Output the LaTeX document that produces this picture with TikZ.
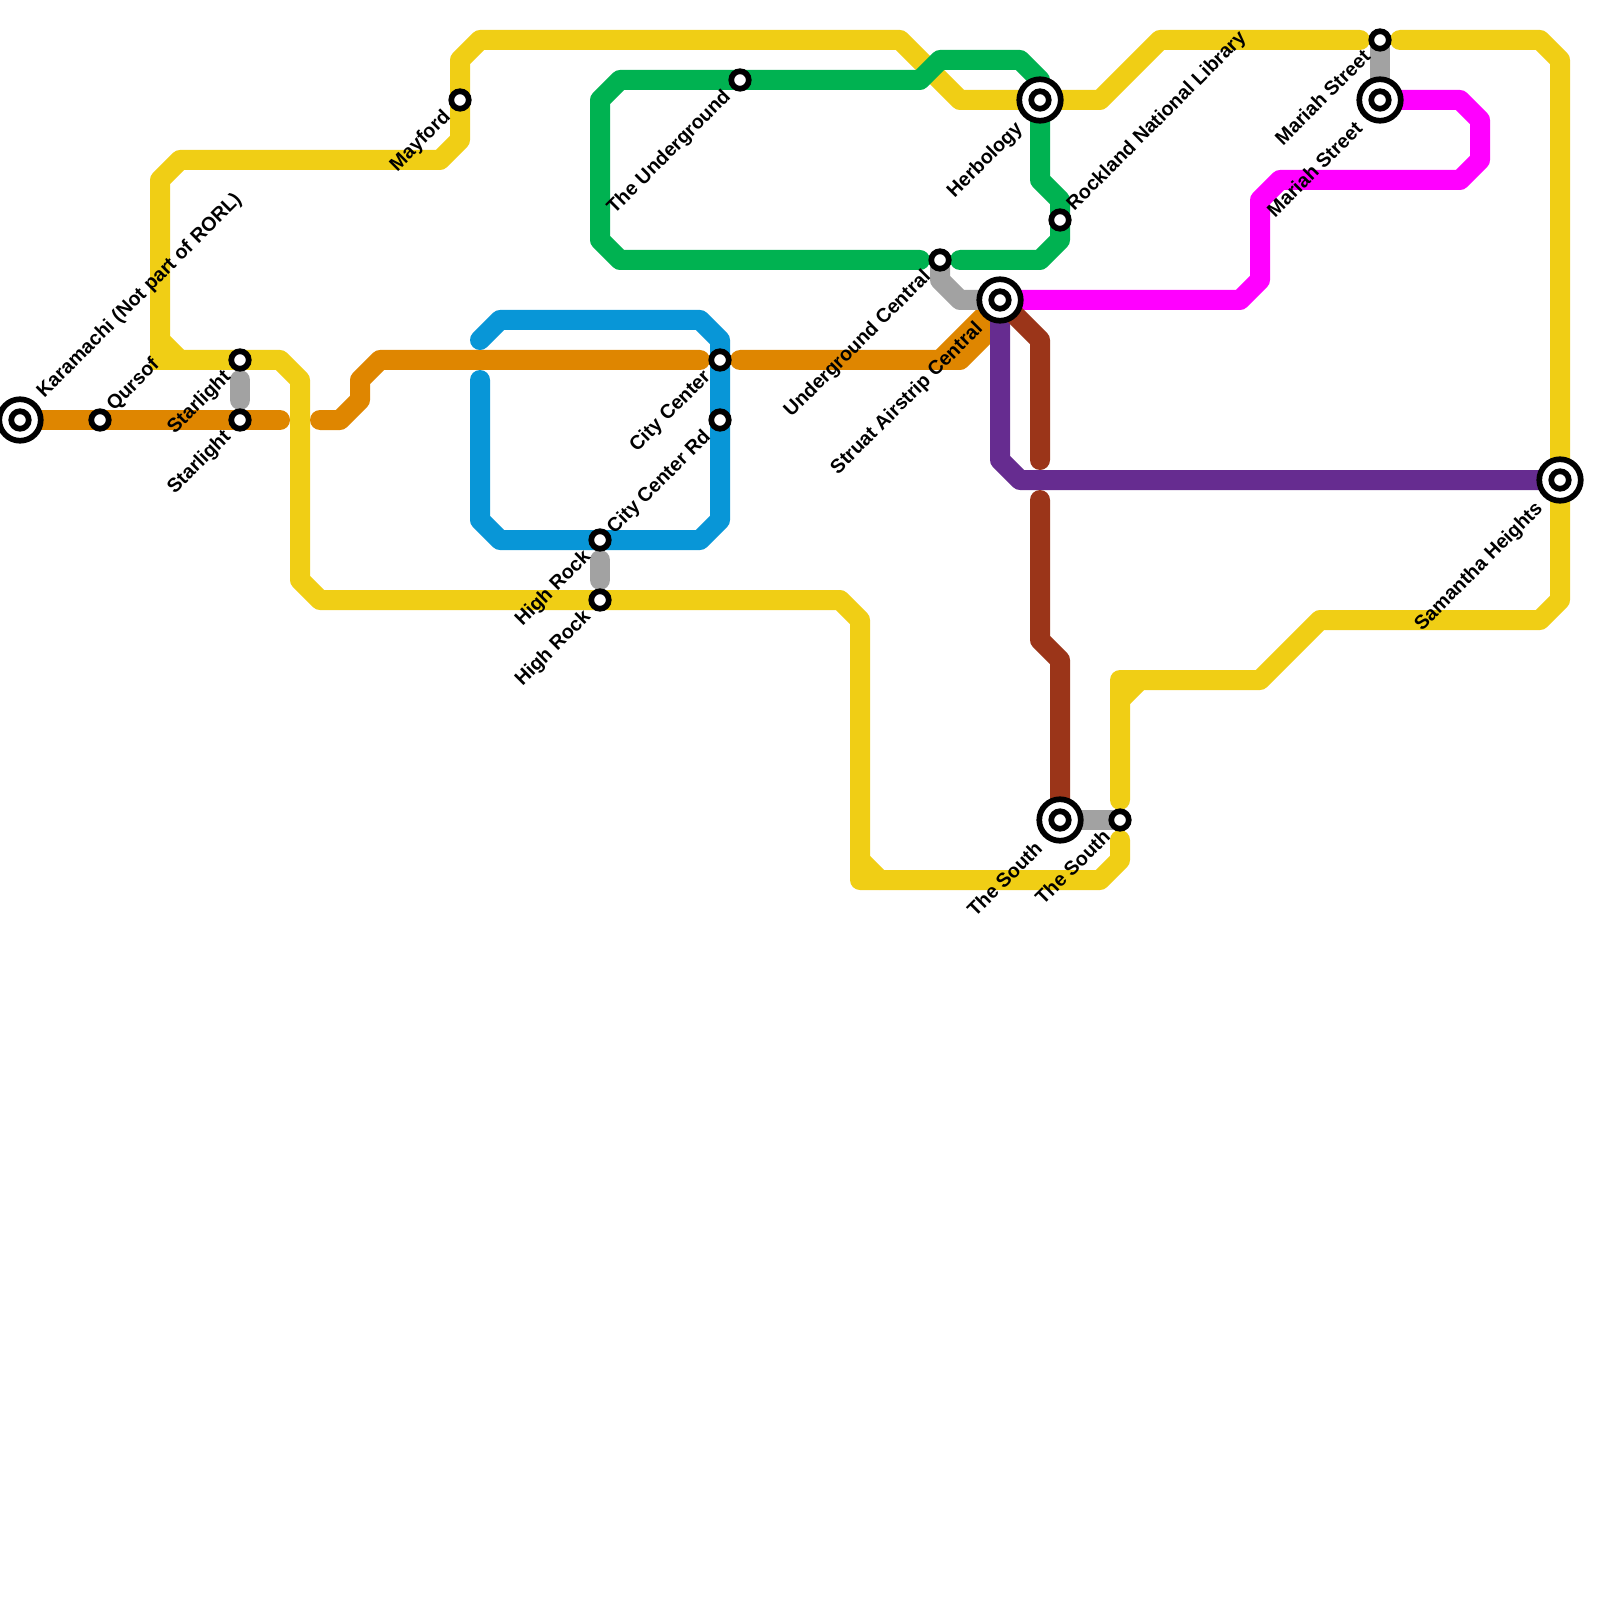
\documentclass[tikz,border=0pt]{standalone}
\usepackage{fontspec}
\usepackage{xcolor}
\setmainfont{Liberation Sans}
\usetikzlibrary{backgrounds}

\definecolor{lineyellow}{HTML}{F0CE15}
\definecolor{lineorange}{HTML}{DF8600}
\definecolor{lineblue}{HTML}{0896D7}
\definecolor{linegreen}{HTML}{00B251}
\definecolor{linepink}{HTML}{FF00FF}
\definecolor{linepurple}{HTML}{662C90}
\definecolor{linebrown}{HTML}{9B3519}
\definecolor{linegrey}{HTML}{A2A2A2}

\begin{document}
\begin{tikzpicture}[
x=2mm, y=-2mm,
metro/.style={line width=2mm, line cap=round, line join=round},
stop/.style={circle, draw=black, fill=white, line width=0.57mm, inner sep=0pt, minimum size=1.75mm},
hub/.style={circle, draw=black, fill=white, line width=0.57mm, inner sep=0pt, minimum size=4.15mm},
walk/.style={metro, linegrey},
walkshort/.style={walk, shorten >=2mm, shorten <=2mm},
txt/.style={font=\bfseries\fontsize{5.6pt}{6pt}\selectfont, inner sep=0pt, text height=1.4mm, text depth=0.3mm},
lblleft/.style={txt, anchor=east, xshift=-1.2mm, yshift=-1.35mm, rotate=45},
lblright/.style={txt, anchor=west, xshift=1mm, yshift=1.2mm, rotate=45},
hubleft/.style={txt, anchor=east, xshift=-2mm, yshift=-2.55mm, rotate=45},
hubright/.style={txt, anchor=west, xshift=2mm, yshift=2.5mm, rotate=45}
]
\useasboundingbox (0,0) rectangle (80,80);

% stations
\node[hub] (karamachi) at (1,21) {};
\node[stop] (karamachi_in) at (karamachi) {};
\node[stop] (qursof) at (5,21) {};
\node[stop] (starlight_y) at (12,18) {};
\node[stop] (starlight_o) at (12,21) {};
\node[stop] (mayford) at (23,5) {};
\node[stop] (underground) at (37,4) {};
\node[stop] (highrock_b) at (30,27) {};
\node[stop] (highrock_y) at (30,30) {};
\node[stop] (citycenter) at (36,18) {};
\node[stop] (citycenterrd) at (36,21) {};
\node[stop] (ugcentral) at (47,13) {};
\node[hub] (struat) at (50,15) {};
\node[stop] (struat_in) at (struat) {};
\node[hub] (herbology) at (52,5) {};
\node[stop] (herbology_in) at (herbology) {};
\node[stop] (rockland) at (53,11) {};
\node[hub] (south_b) at (53,41) {};
\node[stop] (south_b_in) at (south_b) {};
\node[stop] (south_y) at (56,41) {};
\node[stop] (mariah_y) at (69,2) {};
\node[hub] (mariah_p) at (69,5) {};
\node[stop] (mariah_p_in) at (mariah_p) {};
\node[hub] (samantha) at (78,24) {};
\node[stop] (samantha_in) at (samantha) {};

% free ends
\coordinate (yellow_a) at (9,18);
\coordinate (yellow_b) at (68,2);
\coordinate (yellow_c) at (70,2);
\coordinate (yellow_d) at (56,40);
\coordinate (yellow_e) at (56,42);
\coordinate (orange_a) at (14,21);
\coordinate (orange_b) at (16,21);
\coordinate (orange_c) at (35,18);
\coordinate (orange_d) at (37,18);
\coordinate (blue_a) at (24,17);
\coordinate (blue_b) at (24,19);
\coordinate (green_a) at (46,13);
\coordinate (green_b) at (48,13);
\coordinate (brown_a) at (52,23);
\coordinate (brown_b) at (52,25);

\begin{scope}[on background layer]
\draw[metro, lineyellow] (yellow_a) -- (8,17) -- (8,9) -- (9,8) -- (22,8) -- (23,7) -- (23,3) -- (24,2) -- (45,2) -- (48,5) -- (55,5) -- (58,2) -- (yellow_b);
\draw[metro, lineyellow, line join=miter] (8,17) -- (8,18) -- (yellow_a);
\draw[metro, lineyellow] (yellow_a) -- (14,18) -- (15,19) -- (15,29) -- (16,30) -- (42,30) -- (43,31) -- (43,44) -- (55,44) -- (56,43) -- (yellow_e);
\draw[metro, lineyellow] (43,43) -- (44,44);
\draw[metro, lineyellow] (yellow_c) -- (77,2) -- (78,3) -- (78,30) -- (77,31) -- (66,31) -- (63,34) -- (56,34) -- (yellow_d);
\draw[metro, lineyellow] (57,34) -- (56,35);

\draw[metro, lineorange] (karamachi.center) -- (orange_a);
\draw[metro, lineorange] (orange_b) -- (17,21) -- (18,20) -- (18,19) -- (19,18) -- (orange_c);
\draw[metro, lineorange] (orange_d) -- (48,18) -- (50,16) -- (struat.center);
\draw[metro, lineorange] (47,18) -- (struat.center);

\draw[metro, lineblue] (blue_a) -- (25,16) -- (35,16) -- (36,17) -- (36,26) -- (35,27) -- (25,27) -- (24,26) -- (blue_b);

\draw[metro, linegreen] (green_a) -- (31,13) -- (30,12) -- (30,5) -- (31,4) -- (46,4) -- (47,3) -- (51,3) -- (52,4) -- (52,9) -- (53,10) -- (53,12) -- (52,13) -- (green_b);

\draw[metro, linepink] (struat.center) -- (62,15) -- (63,14) -- (63,10) -- (64,9) -- (73,9) -- (74,8) -- (74,6) -- (73,5) -- (mariah_p.center);

\draw[metro, linepurple] (struat.center) -- (50,23) -- (51,24) -- (samantha.center);

\draw[metro, linebrown] (struat.center) -- (52,17) -- (brown_a);
\draw[metro, linebrown] (brown_b) -- (52,32) -- (53,33) -- (south_b.center);

\draw[walkshort] (starlight_y.center) -- (starlight_o.center);
\draw[walkshort] (highrock_b.center) -- (highrock_y.center);
\draw[walk] (ugcentral.center) -- (47,14) -- (48,15) -- (struat.center);
\draw[walk] (mariah_y.center) -- (mariah_p.center);
\draw[walk] (south_b.center) -- (south_y.center);
\end{scope}

% labels
\node[hubright] (karamachi_lbl) at (karamachi) {Karamachi (Not part of RORL)};
\node[lblright] (qursof_lbl) at (qursof) {Qursof};
\node[lblleft] (starlight_y_lbl) at (starlight_y) {Starlight};
\node[lblleft] (starlight_o_lbl) at (starlight_o) {Starlight};
\node[lblleft] (mayford_lbl) at (mayford) {Mayford};
\node[lblleft] (underground_lbl) at (underground) {The Underground};
\node[lblleft] (highrock_b_lbl) at (highrock_b) {High Rock};
\node[lblleft] (highrock_y_lbl) at (highrock_y) {High Rock};
\node[lblleft] (citycenter_lbl) at (citycenter) {City Center};
\node[lblleft] (citycenterrd_lbl) at (citycenterrd) {City Center Rd};
\node[lblleft] (ugcentral_lbl) at (ugcentral) {Underground Central};
\node[hubleft] (struat_lbl) at (struat) {Struat Airstrip Central};
\node[hubleft] (herbology_lbl) at (herbology) {Herbology};
\node[lblright] (rockland_lbl) at (rockland) {Rockland National Library};
\node[hubleft] (south_b_lbl) at (south_b) {The South};
\node[lblleft] (south_y_lbl) at (south_y) {The South};
\node[lblleft] (mariah_y_lbl) at (mariah_y) {Mariah Street};
\node[hubleft] (mariah_p_lbl) at (mariah_p) {Mariah Street};
\node[hubleft] (samantha_lbl) at (samantha) {Samantha Heights};

\end{tikzpicture}
\end{document}
